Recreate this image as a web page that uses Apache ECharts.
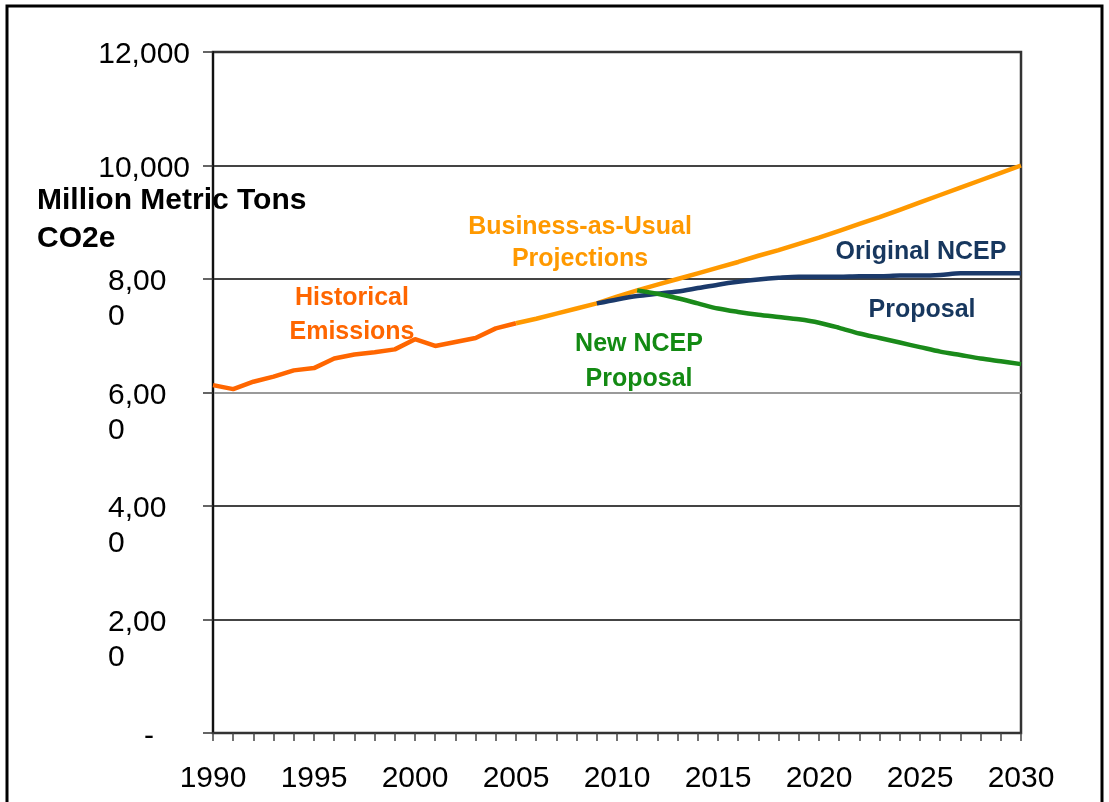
<!DOCTYPE html>
<html>
<head>
<meta charset="utf-8">
<title>CO2e emissions</title>
<script src="https://cdn.jsdelivr.net/npm/echarts@6.0.0/dist/echarts.min.js"></script>
<style>
html,body{margin:0;padding:0;background:#fff;}
#charts{width:1109px;height:802px;}
</style>
</head>
<body>
<div id="charts"></div>
<script>
//年份类目
var years = ['1990','1991','1992','1993','1994','1995','1996','1997','1998','1999',
	'2000','2001','2002','2003','2004','2005','2006','2007','2008','2009',
	'2010','2011','2012','2013','2014','2015','2016','2017','2018','2019',
	'2020','2021','2022','2023','2024','2025','2026','2027','2028','2029','2030'];

//历史排放 1990-2005
var historical = [6130,6060,6190,6280,6390,6430,6600,6670,6710,6760,
	6940,6820,6890,6960,7130,7220];
//照常情景 2005-2030
var businessAsUsual = [7220,7300,7390,7480,7570,7690,7800,7900,8000,8100,
	8200,8300,8410,8510,8620,8730,8850,8970,9090,9220,
	9350,9480,9610,9740,9870,10000];
//原NCEP方案 2009-2030
var originalNcep = [7570,7640,7700,7740,7780,7840,7900,7950,7990,8020,
	8040,8040,8040,8050,8050,8060,8060,8070,8100,8100,8100,8100];
//新NCEP方案 2011-2030
var newNcep = [7800,7740,7660,7570,7480,7420,7370,7330,7290,7230,
	7140,7040,6960,6880,6800,6720,6660,6600,6550,6500];

//y轴刻度文字
var yTickLabels = ['-', '2,00\n0', '4,00\n0', '6,00\n0', '8,00\n0', '10,000', '12,000'];

//把某年开始的数据对齐到年份类目
function pad(startYear, values){
	var out = [];
	for(var i=0;i<years.length;i++){
		var k = i - years.indexOf(String(startYear));
		out.push(k>=0 && k<values.length ? values[k] : null);
	}
	return out;
}

var FONT = 'Liberation Sans, Arial, sans-serif';
var myChart = echarts.init(document.getElementById('charts'));

var option = {
	animation: false,
	backgroundColor: '#fff',
	grid: {left: 213, right: 88, top: 52, bottom: 69, show: true, borderColor: '#333', borderWidth: 2.5},
	xAxis: {
		type: 'category',
		data: years,
		boundaryGap: false,
		axisLine: {lineStyle: {color: '#333', width: 2}},
		axisTick: {interval: 0, length: 8, lineStyle: {color: '#444', width: 1.5}},
		axisLabel: {interval: 4, margin: 31, fontSize: 30, color: '#000', fontFamily: FONT},
		splitLine: {show: false}
	},
	yAxis: {
		type: 'value',
		min: 0, max: 12000, interval: 2000,
		axisLine: {show: true, lineStyle: {color: '#111', width: 2}},
		axisTick: {show: true, length: 10, lineStyle: {color: '#333', width: 1.5}},
		axisLabel: {
			margin: 23,
			formatter: function(v, idx){
				var t = yTickLabels[idx];
				if(t === '-') return '{d|-}';
				if(t.indexOf('\n') > 0){
					var p = t.split('\n');
					return '{e| }\n{w|' + p[0] + '}\n{w|' + p[1] + '}';
				}
				return '{n|' + t + '}';
			},
			rich: {
				n: {fontSize: 30, fontFamily: FONT, color: '#000', lineHeight: 35, padding: [6, 0, 0, 0]},
				e: {fontSize: 30, fontFamily: FONT, color: '#000', lineHeight: 41, width: 82},
				w: {fontSize: 30, fontFamily: FONT, color: '#000', lineHeight: 35, width: 82, align: 'left'},
				d: {fontSize: 30, fontFamily: FONT, color: '#000', lineHeight: 35, width: 82, align: 'center', padding: [8, 0, 0, 0]}
			}
		},
		splitLine: {lineStyle: {color: ['#444','#444','#444','#9a9a9a','#444','#444','#333'], width: 2}}
	},
	series: [
		{name: 'Historical Emissions', type: 'line', data: pad(1990, historical), showSymbol: false,
			lineStyle: {color: '#FF6600', width: 4.5}, itemStyle: {color: '#FF6600'}, z: 3},
		{name: 'Business-as-Usual Projections', type: 'line', data: pad(2005, businessAsUsual), showSymbol: false,
			lineStyle: {color: '#FF9900', width: 4.5}, itemStyle: {color: '#FF9900'}, z: 4},
		{name: 'Original NCEP Proposal', type: 'line', data: pad(2009, originalNcep), showSymbol: false, smooth: 0.3,
			lineStyle: {color: '#1B3A6B', width: 4.5}, itemStyle: {color: '#1B3A6B'}, z: 5},
		{name: 'New NCEP Proposal', type: 'line', data: pad(2011, newNcep), showSymbol: false, smooth: 0.3,
			lineStyle: {color: '#1A8A1A', width: 4.5}, itemStyle: {color: '#1A8A1A'}, z: 6}
	],
	graphic: [
		//外框
		{type: 'rect', shape: {x: 7, y: 6, width: 1095, height: 830}, style: {fill: 'none', stroke: '#000', lineWidth: 3}, silent: true},
		//单位
		{type: 'text', x: 37, y: 220, z: 1, style: {text: 'Million Metric Tons\nCO2e', fill: '#000',
			font: 'bold 30px ' + FONT, textAlign: 'left', textVerticalAlign: 'middle', lineHeight: 38}},
		{type: 'text', x: 352, y: 315, style: {text: 'Historical\nEmissions', fill: '#FF6600',
			font: 'bold 25px ' + FONT, textAlign: 'center', textVerticalAlign: 'middle', lineHeight: 34}},
		{type: 'text', x: 580, y: 243, style: {text: 'Business-as-Usual\nProjections', fill: '#FF9900',
			font: 'bold 25px ' + FONT, textAlign: 'center', textVerticalAlign: 'middle', lineHeight: 32}},
		{type: 'text', x: 921, y: 252, style: {text: 'Original NCEP', fill: '#17375E',
			font: 'bold 25px ' + FONT, textAlign: 'center', textVerticalAlign: 'middle'}},
		{type: 'text', x: 922, y: 310, style: {text: 'Proposal', fill: '#17375E',
			font: 'bold 25px ' + FONT, textAlign: 'center', textVerticalAlign: 'middle'}},
		{type: 'text', x: 639, y: 362, style: {text: 'New NCEP\nProposal', fill: '#138A13',
			font: 'bold 25px ' + FONT, textAlign: 'center', textVerticalAlign: 'middle', lineHeight: 35}}
	]
};
myChart.setOption(option);
</script>
</body>
</html>
